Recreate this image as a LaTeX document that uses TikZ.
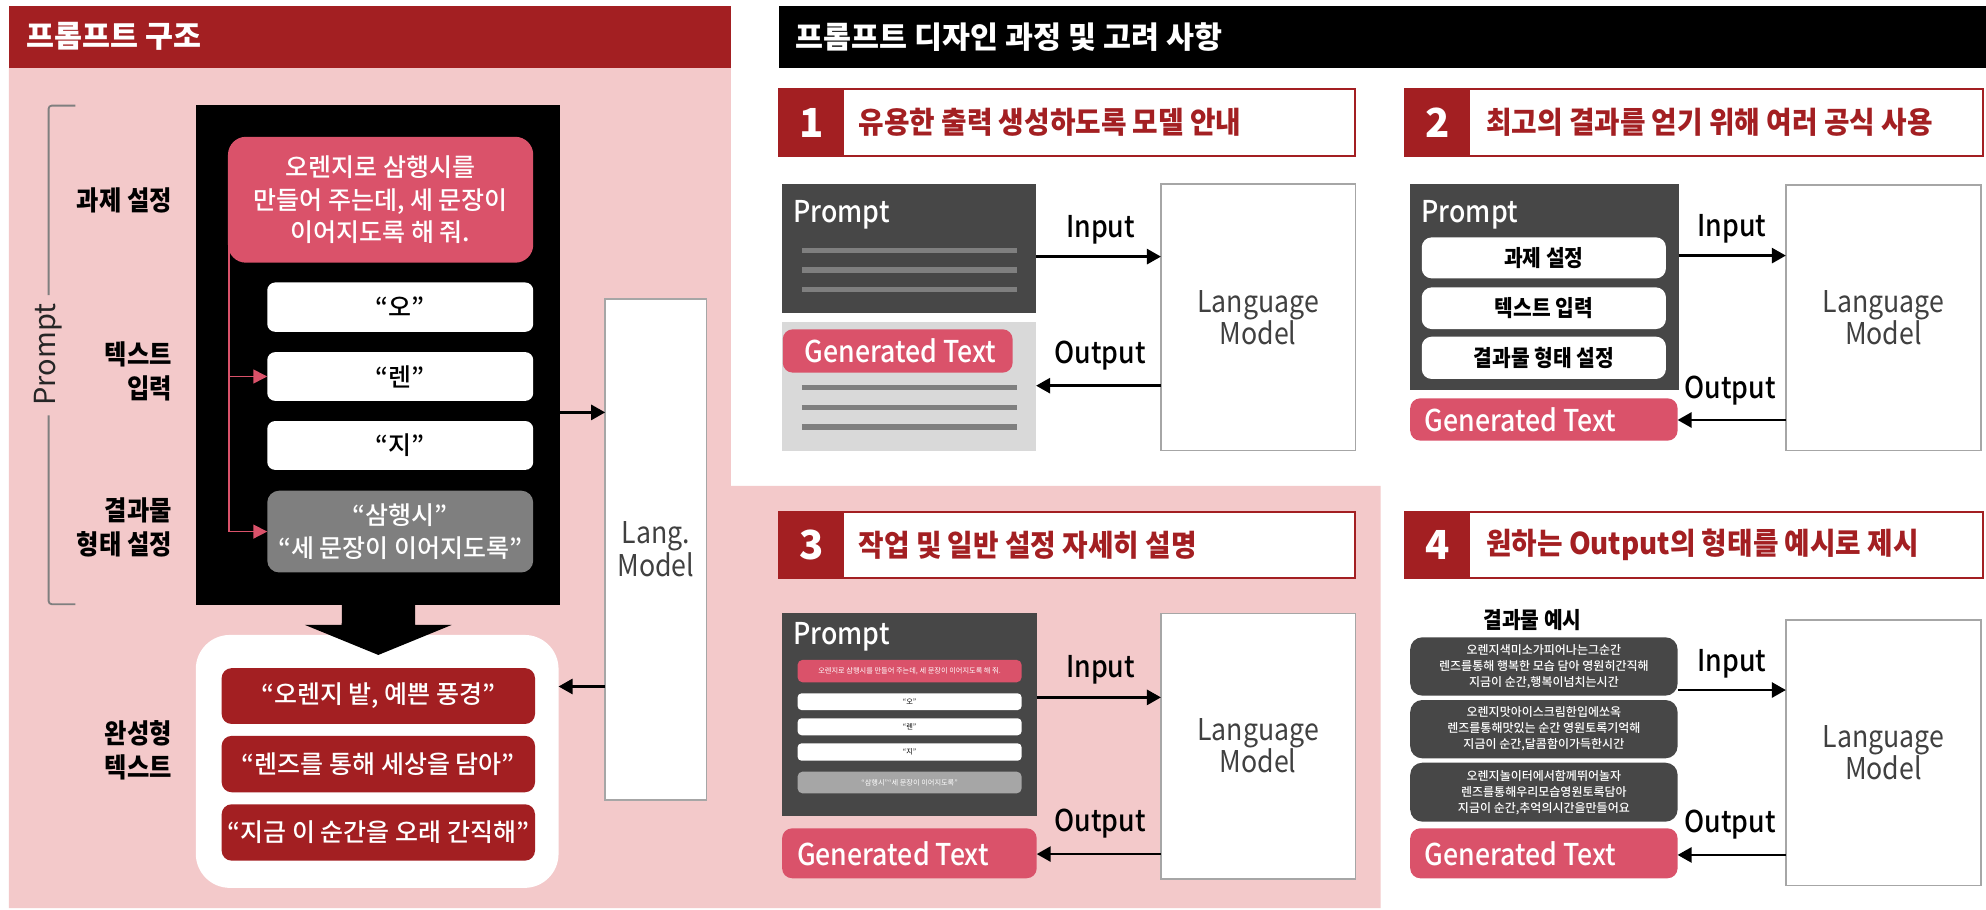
\documentclass[tikz,border=0pt]{standalone}
\usepackage{fontspec}
\setmainfont{Noto Sans CJK KR}
\IfFontExistsTF{Noto Sans CJK KR Medium}{%
  \newfontfamily\medN{Noto Sans CJK KR Medium}%
  \newfontfamily\medC{Noto Sans CJK KR Medium}[FakeStretch=0.89]%
}{%
  \newfontfamily\medN{Noto Sans CJK KR}%
  \newfontfamily\medC{Noto Sans CJK KR}[FakeStretch=0.89]%
}
\newfontfamily\regC{Noto Sans CJK KR}[FakeStretch=0.89]
\newfontfamily\condfont{Noto Sans CJK KR}[FakeStretch=0.925]
\newfontfamily\labfont{Noto Sans CJK KR}[FakeStretch=0.9]
\usetikzlibrary{arrows.meta,calc}
\definecolor{dred}{RGB}{163,31,34}
\definecolor{pinkbg}{RGB}{243,201,202}
\definecolor{rose}{RGB}{218,82,106}
\definecolor{dgray}{RGB}{71,71,71}
\definecolor{mgray}{RGB}{127,127,127}
\definecolor{lgray}{RGB}{217,217,217}
\definecolor{sgray}{RGB}{166,166,166}
\definecolor{tgray}{RGB}{64,64,64}
\newcommand\myfs[2]{\fontsize{#1}{#2}\selectfont}
\begin{document}
\begin{tikzpicture}[x=0.6333pt,y=-0.6333pt,
  rbx/.style n args={4}{inner sep=0pt, outer sep=0pt, anchor=center,
     minimum width={(#3-#1)*0.6333pt}, minimum height={(#4-#2)*0.6333pt},
     at={({(#1+#3)/2},{(#2+#4)/2})}},
  hdr/.style={draw=dred, line width=0.9pt, fill=white},
  numbox/.style={fill=dred, text=white, font=\bfseries\myfs{20}{20}},
  hdrtext/.style={anchor=west, inner sep=0pt, text=dred, font=\condfont\bfseries\myfs{15}{15}},
  lmbox/.style={draw=sgray, line width=0.7pt, fill=white, text=tgray, align=center, font=\regC\myfs{15}{16}},
  darkbox/.style={fill=dgray},
  prompttext/.style={anchor=west, inner sep=0pt, text=white, font=\medC\myfs{15}{15}},
  genbox/.style={fill=rose, rounded corners=5pt},
  gentext/.style={anchor=west, inner sep=0pt, text=white, font=\medC\myfs{15}{15}},
  arr/.style={line width=1.35pt, -{Triangle[length=7pt,width=7.5pt]}},
  iolabel/.style={font=\medC\myfs{15}{15}},
  lab/.style={anchor=east, inner sep=0pt, align=right, font=\labfont\bfseries\myfs{13.5}{16.8}},
  wbox/.style={fill=white, rounded corners=4pt, font=\medN\myfs{12.5}{12.5}},
  rbox/.style={fill=dred, rounded corners=5pt, text=white, font=\medN\myfs{12.5}{12.5}},
  pbox/.style={fill=white, rounded corners=5pt, font=\labfont\bfseries\myfs{11.3}{11.3}},
  tinyw/.style={fill=white, rounded corners=2pt, font=\myfs{3.6}{3.6}},
  exbox/.style={fill=dgray, rounded corners=6pt, text=white, align=center, font=\medN\myfs{6}{8}},
  redline/.style={rose, line width=0.8pt, -{Triangle[length=7pt,width=7pt]}},
  ttl/.style={anchor=west, inner sep=0pt, text=white, font=\bfseries\myfs{15.2}{15.2}}
]
\useasboundingbox (0,0) rectangle (1568,718);
% backgrounds
\fill[pinkbg] (7,53.7) -- (577,53.7) -- (577,383.7) -- (1090,383.7) -- (1090,717) -- (7,717) -- cycle;
\node[rbx={7}{4.7}{577}{53.7}, fill=dred] (lbar) {};
\node[ttl] (ltitle) at (21,29) {프롬프트 구조};
\node[rbx={615}{4.7}{1568}{53.7}, fill=black] (rbar) {};
\node[ttl] (rtitle) at (628,29) {프롬프트 디자인 과정 및 고려 사항};

% ---------- left panel ----------
\draw[mgray, line width=0.9pt, rounded corners=1.5pt] (59.6,83.4) -- (38.4,83.4) -- (38.4,233);
\draw[mgray, line width=0.9pt, rounded corners=1.5pt] (38.4,328) -- (38.4,477) -- (59.6,477);
\node[rotate=90, font=\myfs{14.5}{14.5}, text=black!85] (brk) at (38.4,280) {Prompt};

\node[lab] (l1) at (136,158) {과제 설정};
\node[lab] (l2) at (136,293) {텍스트\\입력};
\node[lab] (l3) at (136,416.3) {결과물\\형태 설정};
\node[lab] (l4) at (136,592.6) {완성형\\텍스트};

\node[rbx={154.6}{82.9}{442.4}{478}, fill=black] (pb) {};
\node[rbx={180}{108}{421}{207.4}, fill=rose, rounded corners=9pt, text=white, align=center, font=\medN\myfs{12.5}{16.3}] (task) {오렌지로 삼행시를\\만들어 주는데, 세 문장이\\이어지도록 해 줘.};
\node[rbx={211}{223}{421}{262}, wbox] (o) {“오”};
\node[rbx={211}{278}{421}{316.5}, wbox] (ren) {“렌”};
\node[rbx={211}{332.4}{421}{371}, wbox] (ji) {“지”};
\node[rbx={211}{387.4}{421}{452}, fill=mgray, rounded corners=6pt, text=white, align=center, font=\medN\myfs{12.5}{16.6}] (sam) {“삼행시”\\“세 문장이 이어지도록”};
\coordinate (rl) at ($(task.south west)+(0.6,-14)$);
\draw[redline] (rl) |- (ren.west);
\draw[redline] (rl) |- (sam.west);

\node[rbx={154.6}{501.3}{441}{701}, fill=white, rounded corners=17pt] (outbox) {};
\fill[black] (270,477) -- (327.7,477) -- (327.7,493.4) -- (356.6,493.4) -- (298.7,517.1) -- (240.8,493.4) -- (269.8,493.4) -- cycle;
\node[rbx={175}{527.5}{422.4}{571.6}, rbox] (r1) {“오렌지 밭, 예쁜 풍경”};
\node[rbx={175}{581}{422.4}{625.5}, rbox] (r2) {“렌즈를 통해 세상을 담아”};
\node[rbx={175}{635}{422.4}{679.5}, rbox] (r3) {“지금 이 순간을 오래 간직해”};

\node[rbx={477.8}{236}{557.9}{631.6}, lmbox, font=\regC\myfs{15}{16.7}] (lm0) {Lang.\\Model};
\draw[arr] (pb.east |- 0,325.6) -- (lm0.west |- 0,325.6);
\draw[arr] (lm0.west |- 0,542) -- (outbox.east |- 0,542);

% ---------- panel 1 ----------
\node[rbx={615}{70.5}{1070}{123}, hdr] (h1) {};
\node[rbx={615}{70.5}{666}{123}, numbox] (n1) {1};
\node[hdrtext] (h1t) at (677.6,96.8) {유용한 출력 생성하도록 모델 안내};
\node[rbx={617.5}{145.3}{818}{246.9}, darkbox] (p1) {};
\node[prompttext] (p1t) at (626,169.7) {Prompt};
\foreach \yy in {198,213.2,228.7} \draw[mgray, line width=2.6pt] (633,\yy) -- (802.7,\yy);
\node[rbx={617.5}{254.2}{818}{355.8}, fill=lgray] (g1) {};
\node[rbx={618}{260}{799.5}{294.2}, genbox] (gt1) {};
\node[gentext] (gt1t) at (635,277.1) {Generated Text};
\foreach \yy in {306,321.6,337.1} \draw[mgray, line width=2.6pt] (633,\yy) -- (802.7,\yy);
\node[rbx={916.6}{145.3}{1070}{355.8}, lmbox] (lm1) {Language\\Model};
\draw[arr] (p1.east |- 0,202.6) -- (lm1.west |- 0,202.6);
\node[iolabel] (in1) at (869,181.6) {Input};
\draw[arr] (lm1.west |- 0,304.5) -- (g1.east |- 0,304.5);
\node[iolabel] (out1) at (868.5,281) {Output};

% ---------- panel 2 ----------
\node[rbx={1109}{70.5}{1565.6}{123}, hdr] (h2) {};
\node[rbx={1109}{70.5}{1160.4}{123}, numbox] (n2) {2};
\node[hdrtext] (h2t) at (1173,96.8) {최고의 결과를 얻기 위해 여러 공식 사용};
\node[rbx={1113.4}{145.3}{1325.4}{308}, darkbox] (p2) {};
\node[prompttext] (p2t) at (1122,169.7) {Prompt};
\node[rbx={1122.5}{187.4}{1315.3}{219.8}, pbox] (w21) {과제 설정};
\node[rbx={1122.5}{226.9}{1315.3}{259.8}, pbox] (w22) {텍스트 입력};
\node[rbx={1122.5}{265.8}{1315.3}{299.2}, pbox] (w23) {결과물 형태 설정};
\node[rbx={1113.4}{314.5}{1324.5}{347.9}, genbox] (gt2) {};
\node[gentext] (gt2t) at (1124.6,331.2) {Generated Text};
\node[rbx={1410}{146}{1564}{355.8}, lmbox] (lm2) {Language\\Model};
\draw[arr] (p2.east |- 0,201.8) -- (lm2.west |- 0,201.8);
\node[iolabel] (in2) at (1367.3,180.3) {Input};
\draw[arr] (lm2.west |- 0,331.6) -- (gt2.east |- 0,331.6);
\node[iolabel] (out2) at (1366,308) {Output};

% ---------- panel 3 ----------
\node[rbx={615}{404}{1070}{456.6}, hdr] (h3) {};
\node[rbx={615}{404}{666}{456.6}, numbox] (n3) {3};
\node[hdrtext] (h3t) at (677.6,430.3) {작업 및 일반 설정 자세히 설명};
\node[rbx={617.5}{484.2}{818.5}{644}, darkbox] (p3) {};
\node[prompttext] (p3t) at (626,502.6) {Prompt};
\node[rbx={629.7}{521}{806.6}{538.7}, fill=rose, rounded corners=2.5pt, text=white, font=\myfs{3.6}{3.6}] (t3) {오렌지로 삼행시를 만들어 주는데, 세 문장이 이어지도록 해 줘.};
\node[rbx={629.7}{547.4}{806.6}{560.6}, tinyw] (o3) {“오”};
\node[rbx={629.7}{567.1}{806.6}{580.5}, tinyw] (ren3) {“렌”};
\node[rbx={629.7}{586.9}{806.6}{600.6}, tinyw] (ji3) {“지”};
\node[rbx={629.7}{609.2}{806.6}{626.4}, fill=sgray, rounded corners=2.5pt, text=white, font=\myfs{3.6}{3.6}] (sam3) {“삼행시”“세 문장이 이어지도록”};
\node[rbx={617.5}{654}{818.5}{693.4}, genbox] (gt3) {};
\node[gentext] (gt3t) at (629,673.7) {Generated Text};
\node[rbx={916.6}{484.2}{1070}{694}, lmbox] (lm3) {Language\\Model};
\draw[arr] (p3.east |- 0,550.6) -- (lm3.west |- 0,550.6);
\node[iolabel] (in3) at (869,529) {Input};
\draw[arr] (lm3.west |- 0,674.3) -- (gt3.east |- 0,674.3);
\node[iolabel] (out3) at (868.5,650.6) {Output};

% ---------- panel 4 ----------
\node[rbx={1109}{404}{1565.6}{456.6}, hdr] (h4) {};
\node[rbx={1109}{404}{1160.4}{456.6}, numbox] (n4) {4};
\node[hdrtext] (h4t) at (1173,430.3) {원하는 Output의 형태를 예시로 제시};
\node[font=\labfont\bfseries\myfs{11.3}{11.3}] (ex) at (1210,489.5) {결과물 예시};
\node[rbx={1113.4}{503.2}{1324.5}{549.2}, exbox] (e1) {오렌지색미소가피어나는그순간\\렌즈를통해 행복한 모습 담아 영원히간직해\\지금이 순간,행복이넘치는시간};
\node[rbx={1113.4}{552.7}{1324.5}{598.7}, exbox] (e2) {오렌지맛아이스크림한입에쏘옥\\렌즈를통해맛있는 순간 영원토록기억해\\지금이 순간,달콤함이가득한시간};
\node[rbx={1113.4}{602.2}{1324.5}{648.7}, exbox] (e3) {오렌지놀이터에서함께뛰어놀자\\렌즈를통해우리모습영원토록담아\\지금이 순간,추억의시간을만들어요};
\node[rbx={1113.4}{654}{1324.5}{693.4}, genbox] (gt4) {};
\node[gentext] (gt4t) at (1124.6,673.7) {Generated Text};
\node[rbx={1410}{489.5}{1564}{699.3}, lmbox] (lm4) {Language\\Model};
\draw[arr] (e1.east |- 0,544.8) -- (lm4.west |- 0,544.8);
\node[iolabel] (in4) at (1367.3,523.7) {Input};
\draw[arr] (lm4.west |- 0,675) -- (gt4.east |- 0,675);
\node[iolabel] (out4) at (1366,651.4) {Output};
\end{tikzpicture}
\end{document}
